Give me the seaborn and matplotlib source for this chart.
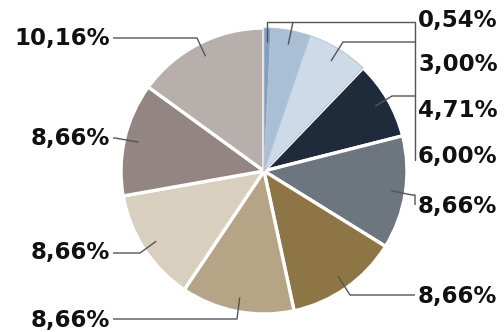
import numpy as np
import matplotlib
matplotlib.use("Agg")
import matplotlib.pyplot as plt
import seaborn as sns

sns.set_theme(style="white")
plt.rcParams['font.family'] = ['DejaVu Sans']

# ---- data ----
values = [0.54, 3.00, 4.71, 6.00, 8.66, 8.66, 8.66, 8.66, 8.66, 10.16]
labels = ["0,54%", "3,00%", "4,71%", "6,00%", "8,66%", "8,66%",
          "8,66%", "8,66%", "8,66%", "10,16%"]
colors = ["#7f9fc4", "#a9bfd6", "#cddbe8", "#1f2b3b", "#6d757e",
          "#8d7546", "#b5a586", "#d8cfbe", "#938582", "#b7afac"]

W, H = 504, 332
fig = plt.figure(figsize=(W / 100, H / 100), dpi=100)
ax = fig.add_axes([0, 0, 1, 1])
ax.set_xlim(0, W)
ax.set_ylim(0, H)
ax.set_aspect('equal')
ax.axis('off')

cx, cy_img, R = 264, 171, 143
wedges, _ = ax.pie(values, colors=colors, startangle=90, counterclock=False,
                   center=(cx, H - cy_img), radius=R,
                   wedgeprops=dict(edgecolor='white', linewidth=2.4))
# thinner separators among the small blue slices
for i in range(3):
    wedges[i].set_linewidth(0.7)
    wedges[i].set_edgecolor('#b9c2ce')
    wedges[i].set_zorder(3)
ax.set_xlim(0, W)
ax.set_ylim(0, H)


def anchor(w, f=0.9):
    a = np.deg2rad((w.theta1 + w.theta2) / 2)
    return (cx + f * R * np.cos(a), (H - cy_img) + f * R * np.sin(a))


def Y(y):
    return H - y

# label layout (image pixel coordinates)
right_idx = [0, 1, 2, 3, 4, 5]
right_y = [20, 65, 111, 157, 206, 296]
left_idx = [9, 8, 7, 6]
left_y = [38, 138, 253, 320]

# leader line routes after the anchor point (image coords)
routes = {
    0: None,
    1: [(293, 22)],
    2: [(343, 42), (415, 42)],
    3: [(392, 96), (415, 96)],
    4: [(412, 195), (415, 195), (415, 205)],
    5: [(350, 295), (415, 295)],
    9: [(197, 38), (113, 38)],
    8: [(115, 138), (113, 138)],
    7: [(140, 253), (113, 253)],
    6: [(237, 319), (113, 319)],
}
lc = '#555555'
lw = 1.0
for i, r in routes.items():
    ax0, ay0 = anchor(wedges[i])
    if r is None:
        r = [(ax0, 22), (415, 22)]
    xs = [ax0] + [p[0] for p in r]
    ys = [ay0] + [Y(p[1]) for p in r]
    ax.plot(xs, ys, color=lc, lw=lw, solid_capstyle='butt', zorder=5)
# bracket line on the right
ax.plot([415, 415], [Y(22), Y(160)], color=lc, lw=lw, zorder=5)

fs = 16.5
for i, y in zip(right_idx, right_y):
    ax.text(418, Y(y), labels[i], ha='left', va='center', fontsize=fs,
            fontweight='bold', color='#111111')
for i, y in zip(left_idx, left_y):
    ax.text(110, Y(y), labels[i], ha='right', va='center', fontsize=fs,
            fontweight='bold', color='#111111')

fig.savefig("out.png", dpi=100)
